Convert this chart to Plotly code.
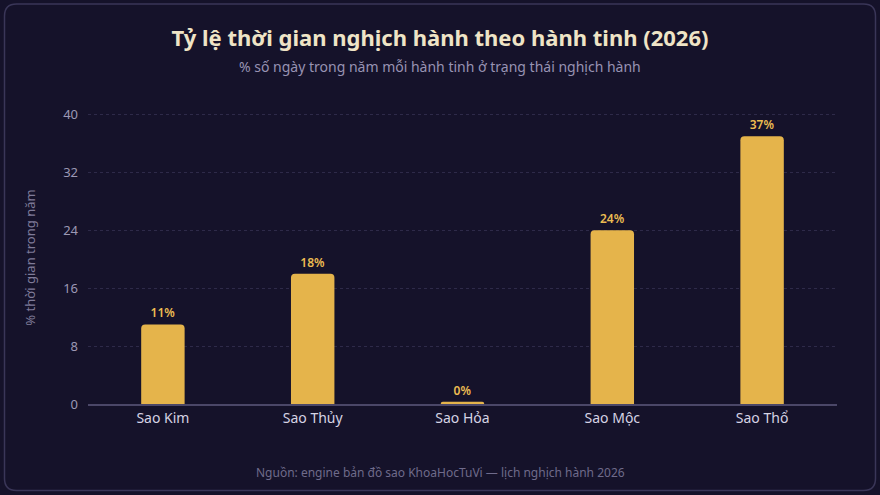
import plotly.graph_objects as go

planets = ["Sao Kim", "Sao Thủy", "Sao Hỏa", "Sao Mộc", "Sao Thổ"]
retro_pct = [11, 18, 0.3, 24, 37]
labels = ["11%", "18%", "0%", "24%", "37%"]
y_ticks = [0, 8, 16, 24, 32, 40]
y_max = 40.5

W, H = 880, 495
L, R, B = 88, 43, 91
T = 115 - (289 / 40) * (y_max - 40)
pw, ph = W - L - R, H - T - B

def px2paper(x, y):
    return (x - L) / pw, (H - B - y) / ph

def rounded_rect(x0, y0, x1, y1, r):
    def p(x, y):
        a, b = px2paper(x, y)
        return f"{a:.5f},{b:.5f}"
    d = f"M {p(x0 + r, y0)} L {p(x1 - r, y0)} Q {p(x1, y0)} {p(x1, y0 + r)} "
    d += f"L {p(x1, y1 - r)} Q {p(x1, y1)} {p(x1 - r, y1)} "
    d += f"L {p(x0 + r, y1)} Q {p(x0, y1)} {p(x0, y1 - r)} "
    d += f"L {p(x0, y0 + r)} Q {p(x0, y0)} {p(x0 + r, y0)} Z"
    return d

bg = "#15122a"
bar_color = "#e5b44b"

fig = go.Figure(go.Bar(
    x=planets, y=retro_pct, text=labels, textposition="outside",
    textfont=dict(color="#ecbc52", size=12, family="Noto Sans", weight=600),
    marker=dict(color=bar_color, cornerradius=4, line=dict(width=0)),
    cliponaxis=False, width=0.29,
))

fig.update_layout(
    width=W, height=H,
    margin=dict(l=L, r=R, t=T, b=B),
    paper_bgcolor=bg, plot_bgcolor=bg,
    font=dict(family="Noto Sans", color="#9c98b4"),
    showlegend=False,
    title=dict(text="<b>Tỷ lệ thời gian nghịch hành theo hành tinh (2026)</b>",
               x=0.5, xanchor="center", y=1 - 38 / H, yanchor="middle",
               font=dict(size=22, color="#efe4c6", family="Noto Sans")),
    xaxis=dict(showgrid=False, showline=True, linecolor="#4b4768", linewidth=1.5,
               tickfont=dict(size=14, color="#d6d3e4"), ticks="", fixedrange=True),
    yaxis=dict(range=[0, y_max], tickvals=y_ticks, showgrid=True, gridcolor="#2e2a49",
               griddash="3px,3px", gridwidth=1, zeroline=False, showline=False,
               tickfont=dict(size=13, color="#9c98b4"), ticklabelstandoff=9,
               title=dict(text="% thời gian trong năm", font=dict(size=13, color="#7f7b99"), standoff=24)),
    shapes=[dict(type="path", xref="paper", yref="paper",
                 path=rounded_rect(4.5, 4.5, 875.5, 490.5, 12),
                 line=dict(color="#3a3658", width=1.5), fillcolor="rgba(0,0,0,0)", layer="below")],
    annotations=[
        dict(text="% số ngày trong năm mỗi hành tinh ở trạng thái nghịch hành",
             xref="paper", yref="paper", x=px2paper(440, 67)[0], y=px2paper(440, 67)[1],
             xanchor="center", yanchor="middle", showarrow=False,
             font=dict(size=14, color="#9893b3")),
        dict(text="Nguồn: engine bản đồ sao KhoaHocTuVi — lịch nghịch hành 2026",
             xref="paper", yref="paper", x=px2paper(440, 472)[0], y=px2paper(440, 472)[1],
             xanchor="center", yanchor="middle", showarrow=False,
             font=dict(size=12, color="#6f6b8b")),
    ],
    bargap=0.7,
)

fig.write_html("out.html")
